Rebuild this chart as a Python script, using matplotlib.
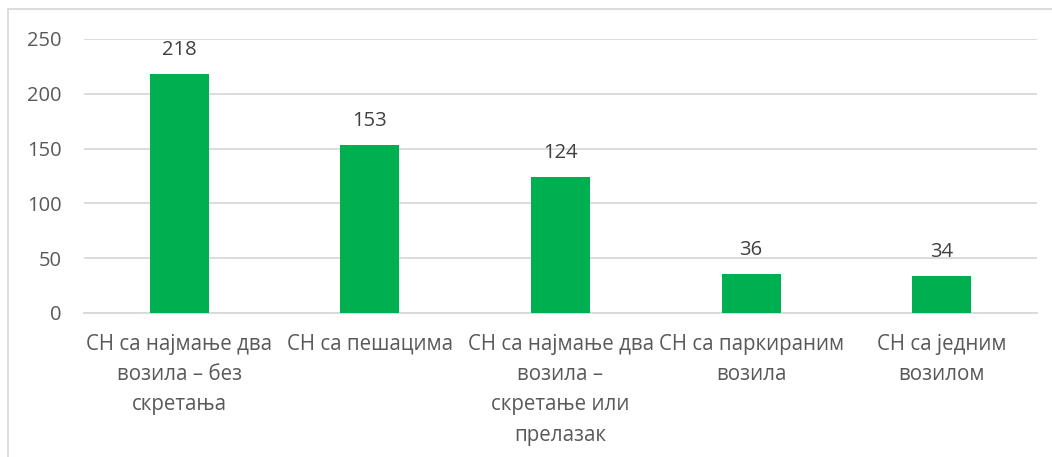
import matplotlib.pyplot as plt
from matplotlib.lines import Line2D

categories = [
    "СН са најмање два\nвозила – без\nскретања",
    "СН са пешацима",
    "СН са најмање два\nвозила –\nскретање или\nпрелазак",
    "СН са паркираним\nвозила",
    "СН са једним\nвозилом",
]
values = [218, 153, 124, 36, 34]
yticks = [0, 50, 100, 150, 200, 250]

plt.rcParams['font.family'] = ['Open Sans', 'DejaVu Sans']
text_color = '#595959'
grid_color = '#D9D9D9'

fig = plt.figure(figsize=(10.52, 4.57), dpi=100)
ax = fig.add_axes([84 / 1052, 1 - 313 / 457, (1037 - 84) / 1052, (313 - 39) / 457])

x = range(len(values))
bars = ax.bar(x, values, width=0.31, color='#00B050', zorder=3)
for b, v in zip(bars, values):
    ax.annotate(str(v), (b.get_x() + b.get_width() / 2, v), xytext=(0, 10),
                textcoords='offset points', ha='center', va='bottom',
                fontsize=14.5, color='#404040')

ax.set_xlim(-0.5, len(values) - 0.5)
ax.set_ylim(0, 250)
ax.set_yticks(yticks)
ax.set_yticklabels([str(t) for t in yticks], fontsize=14.5, color=text_color)
ax.set_xticks(list(x))
ax.set_xticklabels(categories, fontsize=14.8, color=text_color, linespacing=1.58)
ax.tick_params(axis='both', length=0)
ax.tick_params(axis='y', pad=16)
ax.tick_params(axis='x', pad=15)
ax.yaxis.grid(True, color=grid_color, lw=1.3, zorder=0)
for s in ['top', 'right', 'left']:
    ax.spines[s].set_visible(False)
ax.spines['bottom'].set_color(grid_color)
ax.spines['bottom'].set_linewidth(1.3)

# chart border (cropped at right and bottom)
fig.add_artist(Line2D([8 / 1052, 8 / 1052, 1], [0, 1 - 9 / 457, 1 - 9 / 457],
                      transform=fig.transFigure, color=grid_color, lw=1.3))

fig.savefig('out.png', dpi=100)
